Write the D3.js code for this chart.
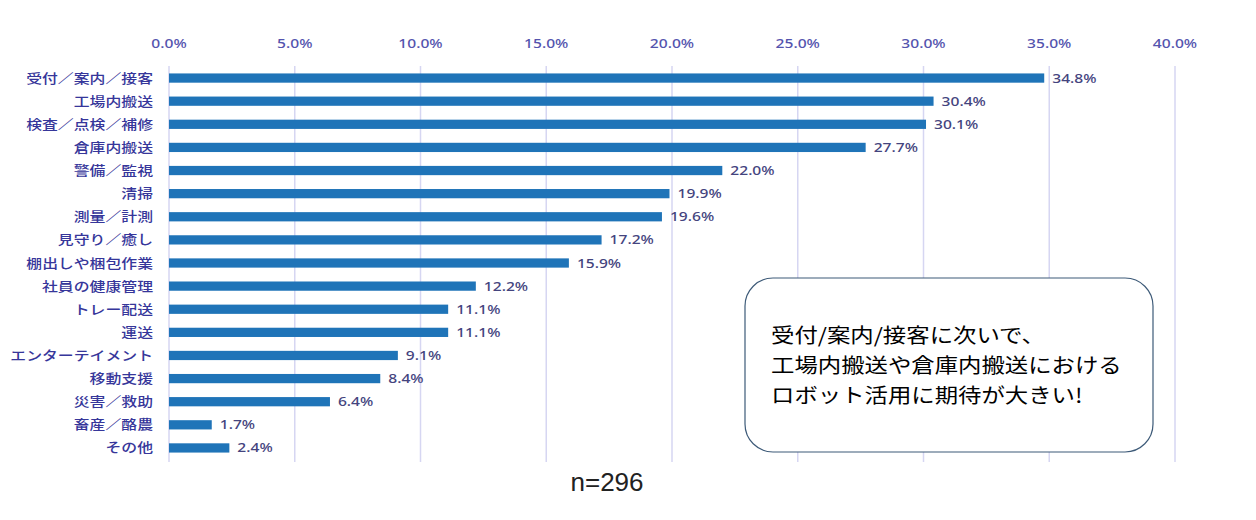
<!DOCTYPE html>
<html><head><meta charset="utf-8">
<script src="https://cdn.jsdelivr.net/npm/d3@7"></script>
<style>body{margin:0;background:#fff}svg{display:block}</style>
</head><body>
<svg id="c" width="1256" height="520"></svg>
<script>
const categories = ["受付／案内／接客","工場内搬送","検査／点検／補修","倉庫内搬送","警備／監視","清掃","測量／計測","見守り／癒し","棚出しや梱包作業","社員の健康管理","トレー配送","運送","エンターテイメント","移動支援","災害／救助","畜産／酪農","その他"];
const values = [34.8,30.4,30.1,27.7,22.0,19.9,19.6,17.2,15.9,12.2,11.1,11.1,9.1,8.4,6.4,1.7,2.4];
const ticks = [0,5,10,15,20,25,30,35,40];
const noteLines = ["受付/案内/接客に次いで、","工場内搬送や倉庫内搬送における","ロボット活用に期待が大きい!"];
const sampleLabel = "n=296";

const svg = d3.select("#c");
const x = d3.scaleLinear().domain([0,40]).range([169,1175]);
const y = d3.scaleBand().domain(categories).range([66.5,459.5]).paddingInner(0.6).paddingOuter(0.3);
const SX = 1.2;
const jp = "'Noto Sans CJK JP','Noto Sans',sans-serif";

// gridlines
svg.append("g").selectAll("line").data(ticks).join("line")
  .attr("x1",d=>x(d)).attr("x2",d=>x(d)).attr("y1",66).attr("y2",462)
  .attr("stroke","#d6d6f2").attr("stroke-width",1.5);

// tick labels
svg.append("g").selectAll("text").data(ticks).join("text")
  .attr("transform",d=>`translate(${x(d)},48) scale(${SX},1)`)
  .attr("text-anchor","middle").attr("font-family","'Noto Sans',sans-serif")
  .attr("font-size",13).attr("font-weight",500).attr("fill","#5454ae")
  .text(d=>d3.format(".1f")(d)+"%");

// bars
svg.append("g").selectAll("rect").data(values).join("rect")
  .attr("x",x(0)).attr("y",(d,i)=>y(categories[i]))
  .attr("width",d=>x(d)-x(0)).attr("height",y.bandwidth())
  .attr("fill","#1f74b8");

// category labels
svg.append("g").selectAll("text").data(categories).join("text")
  .attr("transform",d=>`translate(153,${y(d)+y.bandwidth()/2+4.5}) scale(1.22,1)`)
  .attr("text-anchor","end").attr("font-family",jp)
  .attr("font-size",13).attr("font-weight",500).attr("fill","#36369a")
  .text(d=>d);

// value labels
svg.append("g").selectAll("text").data(values).join("text")
  .attr("transform",(d,i)=>`translate(${x(d)+8},${y(categories[i])+y.bandwidth()/2+4.5}) scale(${SX},1)`)
  .attr("font-family","'Noto Sans',sans-serif")
  .attr("font-size",13).attr("font-weight",500).attr("fill","#44447e")
  .text(d=>d3.format(".1f")(d)+"%");

// annotation box
svg.append("rect").attr("x",745).attr("y",278).attr("width",408).attr("height",174)
  .attr("rx",28).attr("ry",28).attr("fill","#fff").attr("stroke","#3d5a78").attr("stroke-width",1.2);
svg.append("g").selectAll("text").data(noteLines).join("text")
  .attr("transform",(d,i)=>`translate(771,${343+i*30}) scale(1.17,1)`)
  .attr("font-family",jp).attr("font-size",20).attr("font-weight",400).attr("fill","#000")
  .text(d=>d);

// n label
svg.append("text").attr("x",607).attr("y",491).attr("text-anchor","middle")
  .attr("font-family","'Liberation Sans',Arial,sans-serif").attr("font-size",26).attr("fill","#222")
  .text(sampleLabel);
</script>
</body></html>
